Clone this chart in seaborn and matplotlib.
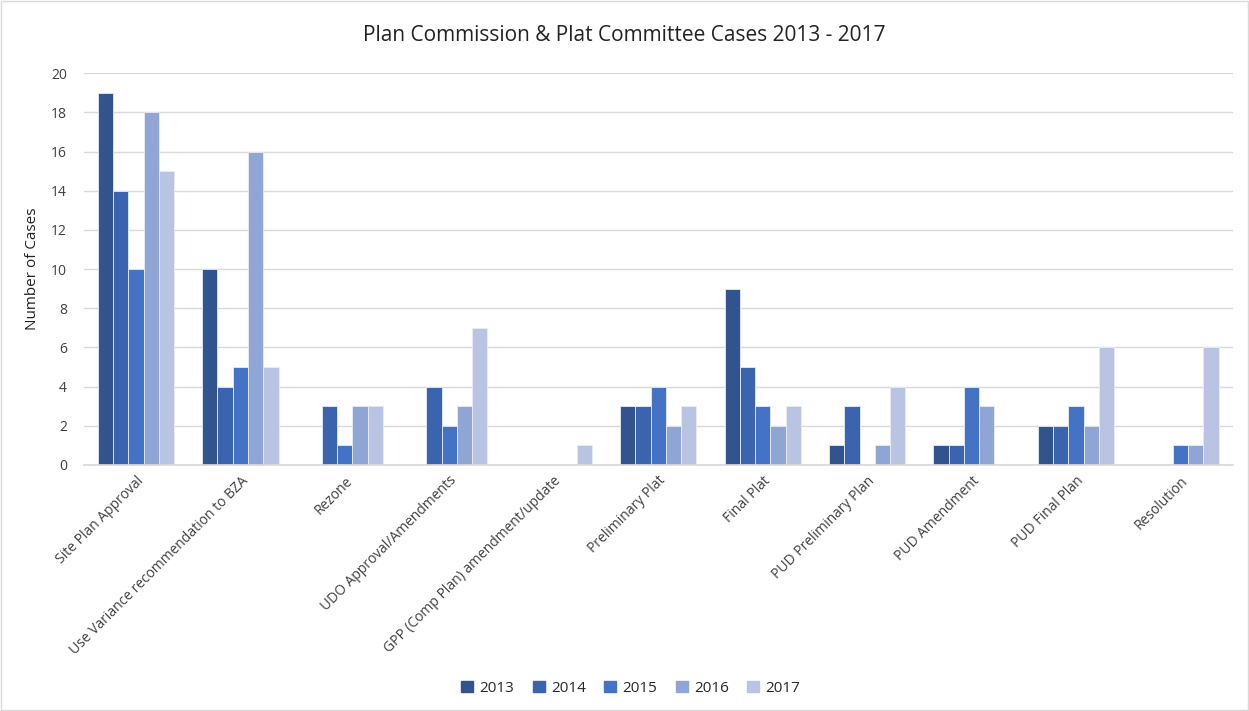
import matplotlib
matplotlib.use("Agg")
import matplotlib.pyplot as plt
import seaborn as sns
import pandas as pd
from matplotlib.patches import Rectangle

categories = ["Site Plan Approval", "Use Variance recommendation to BZA", "Rezone",
              "UDO Approval/Amendments", "GPP (Comp Plan) amendment/update",
              "Preliminary Plat", "Final Plat", "PUD Preliminary Plan",
              "PUD Amendment", "PUD Final Plan", "Resolution"]
years = ["2013", "2014", "2015", "2016", "2017"]
v2013 = [19, 10, 0, 0, 0, 3, 9, 1, 1, 2, 0]
v2014 = [14, 4, 3, 4, 0, 3, 5, 3, 1, 2, 0]
v2015 = [10, 5, 1, 2, 0, 4, 3, 0, 4, 3, 1]
v2016 = [18, 16, 3, 3, 0, 2, 2, 1, 3, 2, 1]
v2017 = [15, 5, 3, 7, 1, 3, 3, 4, 0, 6, 6]
colors = ["#31548F", "#3A64AD", "#4472C4", "#8FA5D5", "#B9C4E2"]

rows = []
for y, vals in zip(years, [v2013, v2014, v2015, v2016, v2017]):
    for c, v in zip(categories, vals):
        rows.append({"Category": c, "Year": y, "Cases": v})
df = pd.DataFrame(rows)

sns.set_theme(style="white")
plt.rcParams['font.family'] = ['Open Sans', 'DejaVu Sans']

fig = plt.figure(figsize=(12.49, 7.11), dpi=100)
ax = fig.add_axes([0.067, 0.346, 0.92, 0.551])
sns.barplot(data=df, x="Category", y="Cases", hue="Year", order=categories,
            hue_order=years, palette=colors, width=0.73, ax=ax, saturation=1,
            edgecolor="#e8ecf6", linewidth=0.6, legend=True)

ax.set_ylim(0, 20)
ax.set_yticks(range(0, 21, 2))
ax.yaxis.grid(True, color="#d9d9d9", linewidth=1)
ax.set_axisbelow(True)
for s in ["top", "right", "left"]:
    ax.spines[s].set_visible(False)
ax.spines["bottom"].set_color("#d9d9d9")
ax.tick_params(axis="y", length=0, labelsize=10, colors="#404040", pad=12)
ax.tick_params(axis="x", length=0, labelsize=10, colors="#404040", pad=6)
plt.setp(ax.get_xticklabels(), rotation=45, ha="right", rotation_mode="anchor")
ax.set_xlabel("")
ax.set_ylabel("Number of Cases", fontsize=11, color="#222222", labelpad=8)
ax.set_xlim(-0.5, len(categories) - 0.5)

fig.suptitle("Plan Commission & Plat Committee Cases 2013 - 2017", fontsize=15,
             color="#222222", y=0.965)

ax.get_legend().remove()
handles = [Rectangle((0, 0), 1, 1, color=c) for c in colors]
fig.legend(handles, years, loc="center", bbox_to_anchor=(0.505, 0.032), ncol=5,
           frameon=False, fontsize=11, handlelength=0.8, handleheight=0.8,
           columnspacing=1.2, handletextpad=0.4)

fig.patches.append(Rectangle((0.001, 0.001), 0.998, 0.998, transform=fig.transFigure,
                             fill=False, edgecolor="#d9d9d9", linewidth=1))
fig.savefig("out.png", dpi=100)
